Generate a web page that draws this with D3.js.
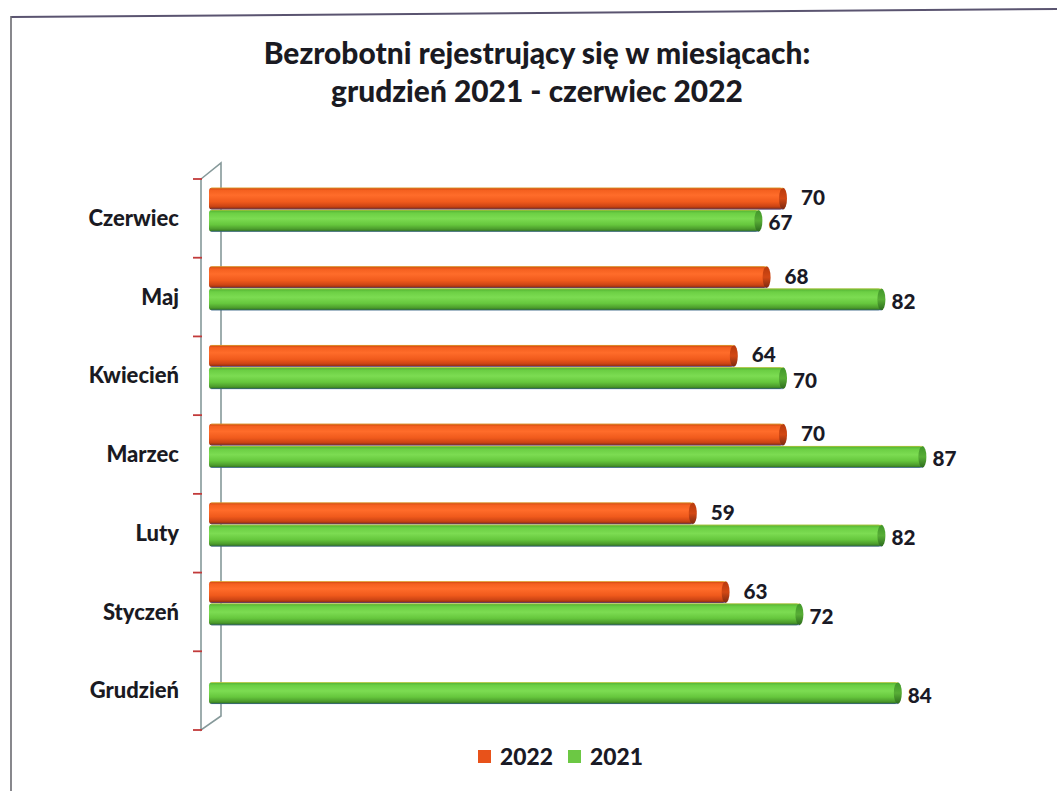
<!DOCTYPE html>
<html><head><meta charset="utf-8">
<script src="https://cdn.jsdelivr.net/npm/d3@7"></script>
<style>html,body{margin:0;padding:0;background:#fff;}svg{display:block;}</style>
</head><body>
<svg id="c" width="1057" height="791"></svg>
<script>
// ---- data ----
const categories = ["Czerwiec","Maj","Kwiecień","Marzec","Luty","Styczeń","Grudzień"];
const series = ["2022","2021"];
const values2022 = [70, 68, 64, 70, 59, 63, null];
const values2021 = [67, 82, 70, 87, 82, 72, 84];
const titleLines = ["Bezrobotni rejestrujący się w miesiącach:", "grudzień 2021 - czerwiec 2022"];
const seriesColors = {"2022": "#e8521a", "2021": "#6cc844"};

const FONT = "Lato, 'Open Sans', sans-serif";
const svg = d3.select("#c");

function fitSize(text, targetW, weight) {
  const t = svg.append("text").attr("font-family", FONT).attr("font-weight", weight || "bold")
    .attr("font-size", 100).text(text);
  const w = t.node().getComputedTextLength();
  t.remove();
  return 100 * targetW / w;
}

// frame
svg.append("line").attr("x1", 11).attr("y1", 17).attr("x2", 1057).attr("y2", 9)
  .attr("stroke", "#5a5470").attr("stroke-width", 2);
svg.append("line").attr("x1", 11).attr("y1", 16).attr("x2", 11).attr("y2", 791)
  .attr("stroke", "#6a6a70").attr("stroke-width", 1.6);

// title
const titleSize = fitSize(titleLines[0], 543);
svg.append("text").attr("x", 537).attr("y", 64).attr("text-anchor", "middle")
  .attr("font-family", FONT).attr("font-weight", 900).attr("font-size", titleSize)
  .attr("fill", "#1a1a22").text(titleLines[0]);
svg.append("text").attr("x", 537).attr("y", 102).attr("text-anchor", "middle")
  .attr("font-family", FONT).attr("font-weight", 900).attr("font-size", titleSize)
  .attr("fill", "#1a1a22").text(titleLines[1]);

// scales
const y = d3.scaleBand().domain(categories).range([179, 730]).paddingInner(0).paddingOuter(0);
const bw = y.bandwidth();
const ySub = d3.scaleBand().domain(series).range([bw * 0.11, bw * 0.675]).paddingInner(0);
const x = d3.scaleLinear().domain([0, 100]).range([209, 1029]);

// gradients
const defs = svg.append("defs");
function cyl(id, stops) {
  const g = defs.append("linearGradient").attr("id", id).attr("x1", 0).attr("y1", 0).attr("x2", 0).attr("y2", 1);
  stops.forEach(s => g.append("stop").attr("offset", s[0]).attr("stop-color", s[1]));
}
cyl("g2022", [[0, "#c8400f"], [0.12, "#f4601f"], [0.35, "#ff6c2a"], [0.65, "#f05a1c"], [0.86, "#cc4414"], [1, "#7a2810"]]);
cyl("g2021", [[0, "#4fae30"], [0.15, "#6ccf44"], [0.4, "#7cdc52"], [0.68, "#66c73d"], [0.88, "#4c9c2c"], [1, "#2c6a1c"]]);
cyl("cap2022", [[0, "#b83a0c"], [0.5, "#d24814"], [1, "#7a2810"]]);
cyl("cap2021", [[0, "#40962a"], [0.5, "#58ae36"], [1, "#2c6a1c"]]);

// 3D axis wall
const axisG = svg.append("g").attr("stroke", "#86999a").attr("stroke-width", 1.6).attr("fill", "none");
const yTop = y.range()[0], yBot = y.range()[1];
axisG.append("path").attr("d", `M201,${yTop} L221,${yTop - 16} L221,${yBot - 14} L201,${yBot} Z`);
const tickYs = categories.map(c => y(c)).concat([yBot]);
svg.append("g").selectAll("line").data(tickYs).join("line")
  .attr("x1", 193).attr("x2", 202).attr("y1", d => d).attr("y2", d => d)
  .attr("stroke", "#c23a3a").attr("stroke-width", 1.8);

// category labels
const catSize = fitSize("Czerwiec", 90);
svg.append("g").selectAll("text").data(categories).join("text")
  .attr("x", 179).attr("y", d => y(d) + bw / 2 + catSize * 0.35)
  .attr("text-anchor", "end").attr("font-family", FONT).attr("font-weight", 900)
  .attr("font-size", catSize).attr("fill", "#1a1a22").text(d => d);

// bars
const rows = [];
categories.forEach((c, i) => {
  rows.push({cat: c, s: "2022", v: values2022[i]});
  rows.push({cat: c, s: "2021", v: values2021[i]});
});
const barData = rows.filter(d => d.v != null);
const bh = ySub.bandwidth();
const bars = svg.append("g").selectAll("g").data(barData).join("g");
bars.append("rect")
  .attr("x", x(0)).attr("y", d => y(d.cat) + ySub(d.s))
  .attr("width", d => x(d.v) - x(0)).attr("height", bh - 0.5)
  .attr("rx", 3).attr("fill", d => `url(#g${d.s})`);
bars.append("ellipse")
  .attr("cx", d => x(d.v)).attr("cy", d => y(d.cat) + ySub(d.s) + (bh - 0.5) / 2)
  .attr("rx", 4).attr("ry", (bh - 0.5) / 2).attr("fill", d => `url(#cap${d.s})`);
bars.append("line")
  .attr("x1", x(0) + 2).attr("x2", d => x(d.v)).attr("y1", d => y(d.cat) + ySub(d.s) + 0.3).attr("y2", d => y(d.cat) + ySub(d.s) + 0.3)
  .attr("stroke", "#e8d040").attr("stroke-width", 0.8).attr("opacity", 0.7);
bars.append("line")
  .attr("x1", x(0) + 2).attr("x2", d => x(d.v)).attr("y1", d => y(d.cat) + ySub(d.s) + bh - 0.8).attr("y2", d => y(d.cat) + ySub(d.s) + bh - 0.8)
  .attr("stroke", "#4060d0").attr("stroke-width", 0.8).attr("opacity", 0.6);

// value labels
const valSize = fitSize("70", 24);
svg.append("g").selectAll("text").data(barData).join("text")
  .attr("x", d => x(d.v) + (d.s === "2022" ? 18 : 10))
  .attr("y", d => y(d.cat) + ySub(d.s) + bh / 2 + valSize * 0.35 + (d.s === "2022" ? -1 : 2))
  .attr("font-family", FONT).attr("font-weight", 900).attr("font-size", valSize)
  .attr("fill", "#1a1a26").text(d => d.v);

// legend
const legSize = fitSize("2022", 53);
const legX = [478, 568];
const leg = svg.append("g").selectAll("g").data(series).join("g");
leg.append("rect").attr("x", (d, i) => legX[i]).attr("y", 750).attr("width", 13).attr("height", 13)
  .attr("fill", d => seriesColors[d]);
leg.append("text").attr("x", (d, i) => legX[i] + 22).attr("y", 765)
  .attr("font-family", FONT).attr("font-weight", 900).attr("font-size", legSize)
  .attr("fill", "#1a1a26").text(d => d);
</script>
</body></html>
